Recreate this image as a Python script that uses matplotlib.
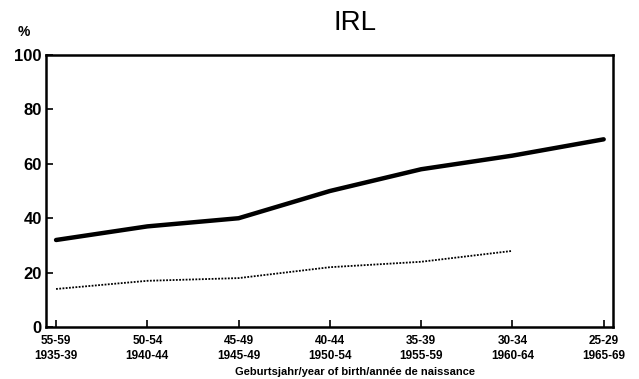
import matplotlib
matplotlib.use("Agg")
from matplotlib import pyplot as plt
import numpy as np

plt.rcParams['font.family'] = ['Liberation Sans', 'DejaVu Sans']

cohorts = ['55-59\n1935-39', '50-54\n1940-44', '45-49\n1945-49', '40-44\n1950-54',
           '35-39\n1955-59', '30-34\n1960-64', '25-29\n1965-69']
thick = [32, 37, 40, 50, 58, 63, 69]
dotted = [14, 17, 18, 22, 24, 28]

fig = plt.figure(figsize=(6.39, 3.79), dpi=100)
ax = fig.add_axes([0.072, 0.137, 0.887, 0.718])

x = np.arange(len(cohorts))
ax.plot(x, thick, color='k', lw=3.2, solid_capstyle='round')
ax.plot(x[:len(dotted)], dotted, color='k', lw=1.3, ls=(0, (1, 0.8)))

ax.set_xlim(-0.11, 6.1)
ax.set_ylim(0, 100)
ax.set_yticks(np.arange(0, 101, 20))
ax.set_xticks(x)
ax.set_xticklabels(cohorts, fontsize=8.5, fontweight='bold', linespacing=1.3)
ax.tick_params(axis='y', direction='in', length=5, width=1.2, labelsize=12, pad=3)
ax.tick_params(axis='x', direction='in', length=5, width=1.2, pad=6)
for lab in ax.get_yticklabels():
    lab.set_fontweight('bold')
for s in ax.spines.values():
    s.set_linewidth(1.8)

fig.text(0.555, 0.018, 'Geburtsjahr/year of birth/année de naissance', fontsize=8,
         fontweight='bold', ha='center', va='center')
fig.text(0.038, 0.905, '%', fontsize=10, fontweight='bold', ha='center')
fig.text(0.555, 0.92, 'IRL', fontsize=20, ha='center')

fig.savefig('out.png', dpi=100)
